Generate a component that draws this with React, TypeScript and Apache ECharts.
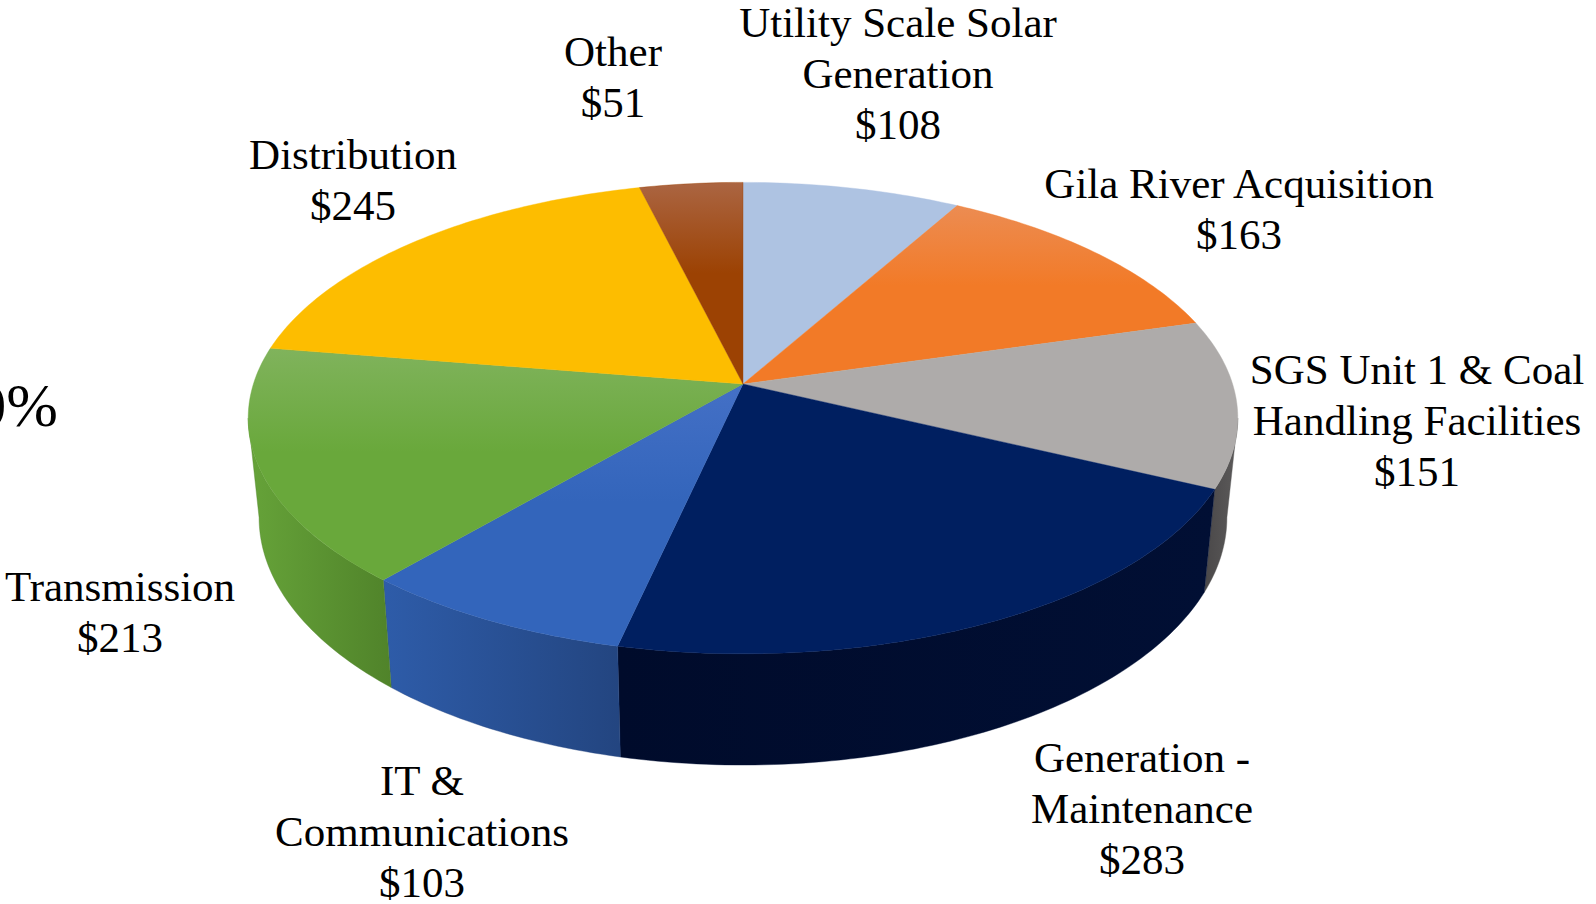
import React, { useEffect, useRef } from "react";
import * as echarts from "echarts";

const categories = [
  "Utility Scale Solar\nGeneration",
  "Gila River Acquisition",
  "SGS Unit 1 & Coal\nHandling Facilities",
  "Generation -\nMaintenance",
  "IT &\nCommunications",
  "Transmission",
  "Distribution",
  "Other",
];
const values = [108, 163, 151, 283, 103, 213, 245, 51];
const topStops = [
  ["#aec3e2", "#aec3e2"],
  ["#ec8c52", "#f27a27"],
  ["#aeabaa", "#aeabaa"],
  ["#001f60", "#001f60"],
  ["#4470c6", "#3365bb"],
  ["#80b35c", "#69a83b"],
  ["#fdbd00", "#fdbd00"],
  ["#ab6542", "#9c4203"],
];
const wallStops = [
  ["#8fa3c0", "#8fa3c0"],
  ["#c8651f", "#c8651f"],
  ["#4a4849", "#5c5a5a"],
  ["#000b2b", "#010f34"],
  ["#2e5ca9", "#234580"],
  ["#66a339", "#50832a"],
  ["#d9a200", "#d9a200"],
  ["#843803", "#843803"],
];
const labelX = [898, 1239, 1417, 1142, 422, 120, 353, 613];
const labelY = [73, 209, 420, 808, 831, 612, 180, 77];

const total = values.reduce((s, v) => s + v, 0);
const CX = 743;
const CY = 384;
const A = 489.6;
const B = 230.8;
const K = 0.1447;
const STEP = Math.PI / 180;
const VIS = Math.asin(K);

function project(t: number, low: boolean): number[] {
  const w = 1 - K * Math.sin(t);
  const x = (A * Math.cos(t)) / w;
  const y = (B * Math.sin(t)) / w;
  return low ? [CX + 0.978 * x, CY + 97.7 + 1.05 * y] : [CX + x, CY + y];
}

function sliceAngles(i: number): number[] {
  let before = 0;
  for (let j = 0; j < i; j++) before += values[j];
  const f = (v: number) => -Math.PI / 2 + (v / total) * Math.PI * 2;
  return [f(before), f(before + values[i])];
}

function arc(t0: number, t1: number, low: boolean): number[][] {
  const n = Math.max(2, Math.ceil((t1 - t0) / STEP));
  const pts: number[][] = [];
  for (let i = 0; i <= n; i++) pts.push(project(t0 + ((t1 - t0) * i) / n, low));
  return pts;
}

function gradient(stops: string[], vertical: boolean) {
  return new echarts.graphic.LinearGradient(0, 0, vertical ? 0 : 1, vertical ? 1 : 0, [
    { offset: 0, color: stops[0] },
    { offset: vertical ? 0.45 : 1, color: stops[1] },
    { offset: 1, color: stops[1] },
  ]);
}

function renderWall(params: any) {
  const i = params.dataIndex;
  const [a0, a1] = sliceAngles(i);
  const t0 = Math.max(a0, VIS);
  const t1 = Math.min(a1, Math.PI - VIS);
  if (t1 <= t0) return null;
  const points = [...arc(t0, t1, false), ...arc(t0, t1, true).reverse()];
  return {
    type: "polygon",
    shape: { points },
    style: { fill: gradient(wallStops[i], false), stroke: wallStops[i][1], lineWidth: 0.4 },
  };
}

function renderTop(params: any) {
  const i = params.dataIndex;
  const [a0, a1] = sliceAngles(i);
  const points = [[CX, CY], ...arc(a0, a1, false)];
  return {
    type: "polygon",
    shape: { points },
    style: { fill: gradient(topStops[i], true), stroke: topStops[i][1], lineWidth: 0.4 },
  };
}

const FONT = '43px "Liberation Serif"';

export default function App() {
  const ref = useRef<HTMLDivElement>(null);
  useEffect(() => {
    if (!ref.current) return;
    const chart = echarts.init(ref.current, undefined, { renderer: "svg" });
    chart.setOption({
      animation: false,
      backgroundColor: "#ffffff",
      series: [
        { type: "custom", coordinateSystem: "none", renderItem: renderWall, data: values, silent: true, z: 1 },
        { type: "custom", coordinateSystem: "none", renderItem: renderTop, data: values, silent: true, z: 2 },
      ],
      graphic: {
        elements: [
          ...categories.map((c, i) => ({
            type: "text",
            x: labelX[i],
            y: labelY[i],
            z: 10,
            style: {
              text: `${c}\n$${values[i]}`,
              font: FONT,
              lineHeight: 51,
              fill: "#000000",
              textAlign: "center",
              textVerticalAlign: "middle",
            },
          })),
          {
            type: "text",
            x: 58,
            y: 405,
            z: 10,
            style: {
              text: "0%",
              font: '62px "Liberation Serif"',
              fill: "#000000",
              textAlign: "right",
              textVerticalAlign: "middle",
            },
          },
        ],
      },
    });
    return () => chart.dispose();
  }, []);
  return (
    <div
      ref={ref}
      style={{ position: "fixed", left: 0, top: 0, width: 1596, height: 904 }}
    />
  );
}
